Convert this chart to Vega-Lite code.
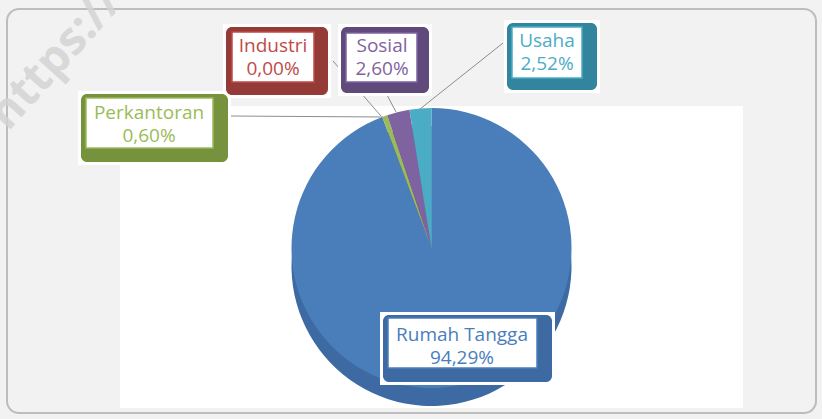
{
  "$schema": "https://vega.github.io/schema/vega-lite/v6.json",
  "width": 623,
  "height": 302,
  "autosize": {"type": "none"},
  "padding": {"left": 120, "top": 106, "right": 79, "bottom": 11},
  "background": "#F2F2F2",
  "view": {"fill": "#FFFFFF", "stroke": null},
  "config": {"font": "Open Sans"},
  "data": {
    "values": [
      {"kategori": "Rumah Tangga", "persen": 94.29, "label": "94,29%"},
      {"kategori": "Industri", "persen": 0.0, "label": "0,00%"},
      {"kategori": "Perkantoran", "persen": 0.6, "label": "0,60%"},
      {"kategori": "Sosial", "persen": 2.6, "label": "2,60%"},
      {"kategori": "Usaha", "persen": 2.52, "label": "2,52%"}
    ]
  },
  "transform": [
    {"window": [{"op": "row_number", "as": "slot"}]},
    {"calculate": "[datum.kategori, datum.label]", "as": "teks"}
  ],
  "layer": [
    {
      "data": {"values": [{"tanda": "https://", "slot": 6}]},
      "transform": [],
      "mark": {"type": "point", "size": 4, "filled": false, "stroke": "#BDBDBD", "strokeWidth": 2, "opacity": 1,
               "shape": "M11 -123H796A12 12 0 0 1 808 -111V269A12 12 0 0 1 796 281H11A12 12 0 0 1 -1 269V-111A12 12 0 0 1 11 -123Z"},
      "encoding": {
        "x": {"field": "slot", "type": "quantitative", "axis": null, "scale": {"domain": [1, 2, 3, 4, 5, 6], "range": [342, 153, 29, 262, 427, -112], "zero": false, "nice": false}},
        "y": {"field": "slot", "type": "quantitative", "axis": null, "scale": {"domain": [1, 2, 3, 4, 5, 6], "range": [240, -48.5, 18.5, -48.5, -54, 26], "zero": false, "nice": false}}
      }
    },
    {
      "data": {"values": [{"tanda": "https://", "slot": 6}]},
      "transform": [],
      "mark": {"type": "text", "fontSize": 46, "fontWeight": "bold", "angle": -48, "align": "left", "baseline": "alphabetic", "color": "#D4D4D4", "opacity": 0.85},
      "encoding": {
        "x": {"field": "slot", "type": "quantitative", "axis": null, "scale": {"domain": [1, 2, 3, 4, 5, 6], "range": [342, 153, 29, 262, 427, -112], "zero": false, "nice": false}},
        "y": {"field": "slot", "type": "quantitative", "axis": null, "scale": {"domain": [1, 2, 3, 4, 5, 6], "range": [240, -48.5, 18.5, -48.5, -54, 26], "zero": false, "nice": false}},
        "text": {"field": "tanda"}
      }
    },
    {
      "mark": {"type": "arc", "radius": 140, "yOffset": 9},
      "encoding": {
        "theta": {"field": "persen", "type": "quantitative", "stack": true},
        "order": {"field": "slot", "type": "quantitative"},
        "fill": {
          "field": "kategori", "type": "nominal", "legend": null,
          "scale": {
            "domain": ["Rumah Tangga", "Industri", "Perkantoran", "Sosial", "Usaha"],
            "range": ["#3D6AA3", "#943A37", "#76923C", "#5F4A7B", "#31859C"]
          }
        }
      }
    },
    {
      "mark": {"type": "arc", "radius": 140, "yOffset": -9},
      "encoding": {
        "theta": {"field": "persen", "type": "quantitative", "stack": true},
        "order": {"field": "slot", "type": "quantitative"},
        "color": {
          "field": "kategori", "type": "nominal", "legend": null,
          "scale": {
            "domain": ["Rumah Tangga", "Industri", "Perkantoran", "Sosial", "Usaha"],
            "range": ["#4A7EBB", "#BE4B48", "#9BBB59", "#7F63A1", "#4BACC6"]
          }
        }
      }
    },
    {
      "mark": {"type": "point", "size": 4, "filled": false, "stroke": "#8C8C8C", "strokeWidth": 1, "opacity": 1},
      "encoding": {
        "x": {"field": "slot", "type": "quantitative", "axis": null, "scale": {"domain": [1, 2, 3, 4, 5, 6], "range": [342, 153, 29, 262, 427, -112], "zero": false, "nice": false}},
        "y": {"field": "slot", "type": "quantitative", "axis": null, "scale": {"domain": [1, 2, 3, 4, 5, 6], "range": [240, -48.5, 18.5, -48.5, -54, 26], "zero": false, "nice": false}},
        "shape": {
          "field": "kategori", "type": "nominal", "legend": null,
          "scale": {
            "domain": ["Rumah Tangga", "Industri", "Perkantoran", "Sosial", "Usaha"],
            "range": ["M0 0L0 0", "M60 3.5L108 58.5", "M79 -8.5L234 -7.5", "M4 35.5L14 54.5", "M-44 -9L-127 57"]
          }
        }
      }
    },
    {
      "mark": {"type": "point", "size": 4, "filled": true, "fill": "#FFFFFF", "opacity": 1},
      "encoding": {
        "x": {"field": "slot", "type": "quantitative", "axis": null, "scale": {"domain": [1, 2, 3, 4, 5, 6], "range": [342, 153, 29, 262, 427, -112], "zero": false, "nice": false}},
        "y": {"field": "slot", "type": "quantitative", "axis": null, "scale": {"domain": [1, 2, 3, 4, 5, 6], "range": [240, -48.5, 18.5, -48.5, -54, 26], "zero": false, "nice": false}},
        "shape": {
          "field": "kategori", "type": "nominal", "legend": null,
          "scale": {
            "domain": ["Rumah Tangga", "Industri", "Perkantoran", "Sosial", "Usaha"],
            "range": ["M-82 -34H93V39H-82Z", "M-50 -33.5H58V40.5H-50Z", "M-71 -33.5H82V40.5H-71Z", "M-44 -33.5H50V38.5H-44Z", "M-43 -32H53V41H-43Z"]
          }
        }
      }
    },
    {
      "mark": {"type": "point", "size": 4, "filled": true, "opacity": 1},
      "encoding": {
        "x": {"field": "slot", "type": "quantitative", "axis": null, "scale": {"domain": [1, 2, 3, 4, 5, 6], "range": [342, 153, 29, 262, 427, -112], "zero": false, "nice": false}},
        "y": {"field": "slot", "type": "quantitative", "axis": null, "scale": {"domain": [1, 2, 3, 4, 5, 6], "range": [240, -48.5, 18.5, -48.5, -54, 26], "zero": false, "nice": false}},
        "fill": {
          "field": "kategori", "type": "nominal", "legend": null,
          "scale": {
            "domain": ["Rumah Tangga", "Industri", "Perkantoran", "Sosial", "Usaha"],
            "range": ["#3D6AA3", "#943A37", "#76923C", "#5F4A7B", "#31859C"]
          }
        },
        "shape": {
          "field": "kategori", "type": "nominal", "legend": null,
          "scale": {
            "domain": ["Rumah Tangga", "Industri", "Perkantoran", "Sosial", "Usaha"],
            "range": [
              "M-73 -31H84A6 6 0 0 1 90 -25V30A6 6 0 0 1 84 36H-73A6 6 0 0 1 -79 30V-25A6 6 0 0 1 -73 -31Z",
              "M-41 -30.5H49A6 6 0 0 1 55 -24.5V31.5A6 6 0 0 1 49 37.5H-41A6 6 0 0 1 -47 31.5V-24.5A6 6 0 0 1 -41 -30.5Z",
              "M-62 -30.5H73A6 6 0 0 1 79 -24.5V31.5A6 6 0 0 1 73 37.5H-62A6 6 0 0 1 -68 31.5V-24.5A6 6 0 0 1 -62 -30.5Z",
              "M-35 -30.5H41A6 6 0 0 1 47 -24.5V29.5A6 6 0 0 1 41 35.5H-35A6 6 0 0 1 -41 29.5V-24.5A6 6 0 0 1 -35 -30.5Z",
              "M-34 -29H44A6 6 0 0 1 50 -23V32A6 6 0 0 1 44 38H-34A6 6 0 0 1 -40 32V-23A6 6 0 0 1 -34 -29Z"
            ]
          }
        }
      }
    },
    {
      "mark": {"type": "point", "size": 4, "filled": true, "fill": "#FFFFFF", "strokeWidth": 1.5, "opacity": 1},
      "encoding": {
        "x": {"field": "slot", "type": "quantitative", "axis": null, "scale": {"domain": [1, 2, 3, 4, 5, 6], "range": [342, 153, 29, 262, 427, -112], "zero": false, "nice": false}},
        "y": {"field": "slot", "type": "quantitative", "axis": null, "scale": {"domain": [1, 2, 3, 4, 5, 6], "range": [240, -48.5, 18.5, -48.5, -54, 26], "zero": false, "nice": false}},
        "stroke": {
          "field": "kategori", "type": "nominal", "legend": null,
          "scale": {
            "domain": ["Rumah Tangga", "Industri", "Perkantoran", "Sosial", "Usaha"],
            "range": ["#4A7EBB", "#BE4B48", "#9BBB59", "#7F63A1", "#4BACC6"]
          }
        },
        "shape": {
          "field": "kategori", "type": "nominal", "legend": null,
          "scale": {
            "domain": ["Rumah Tangga", "Industri", "Perkantoran", "Sosial", "Usaha"],
            "range": ["M-74 -28H75V22H-74Z", "M-41 -25.5H41V24.5H-41Z", "M-63 -26.5H64V23.5H-63Z", "M-36 -24.5H35V24.5H-36Z", "M-35 -25H35V26H-35Z"]
          }
        }
      }
    },
    {
      "mark": {"type": "text", "fontSize": 19, "lineHeight": 23, "align": "center", "baseline": "middle", "dy": -11.5},
      "encoding": {
        "x": {"field": "slot", "type": "quantitative", "axis": null, "scale": {"domain": [1, 2, 3, 4, 5, 6], "range": [342, 153, 29, 262, 427, -112], "zero": false, "nice": false}},
        "y": {"field": "slot", "type": "quantitative", "axis": null, "scale": {"domain": [1, 2, 3, 4, 5, 6], "range": [240, -48.5, 18.5, -48.5, -54, 26], "zero": false, "nice": false}},
        "text": {"field": "teks"},
        "color": {
          "field": "kategori", "type": "nominal", "legend": null,
          "scale": {
            "domain": ["Rumah Tangga", "Industri", "Perkantoran", "Sosial", "Usaha"],
            "range": ["#4A7EBB", "#BE4B48", "#9BBB59", "#7F63A1", "#4BACC6"]
          }
        }
      }
    }
  ],
  "resolve": {"scale": {"shape": "independent"}}
}
